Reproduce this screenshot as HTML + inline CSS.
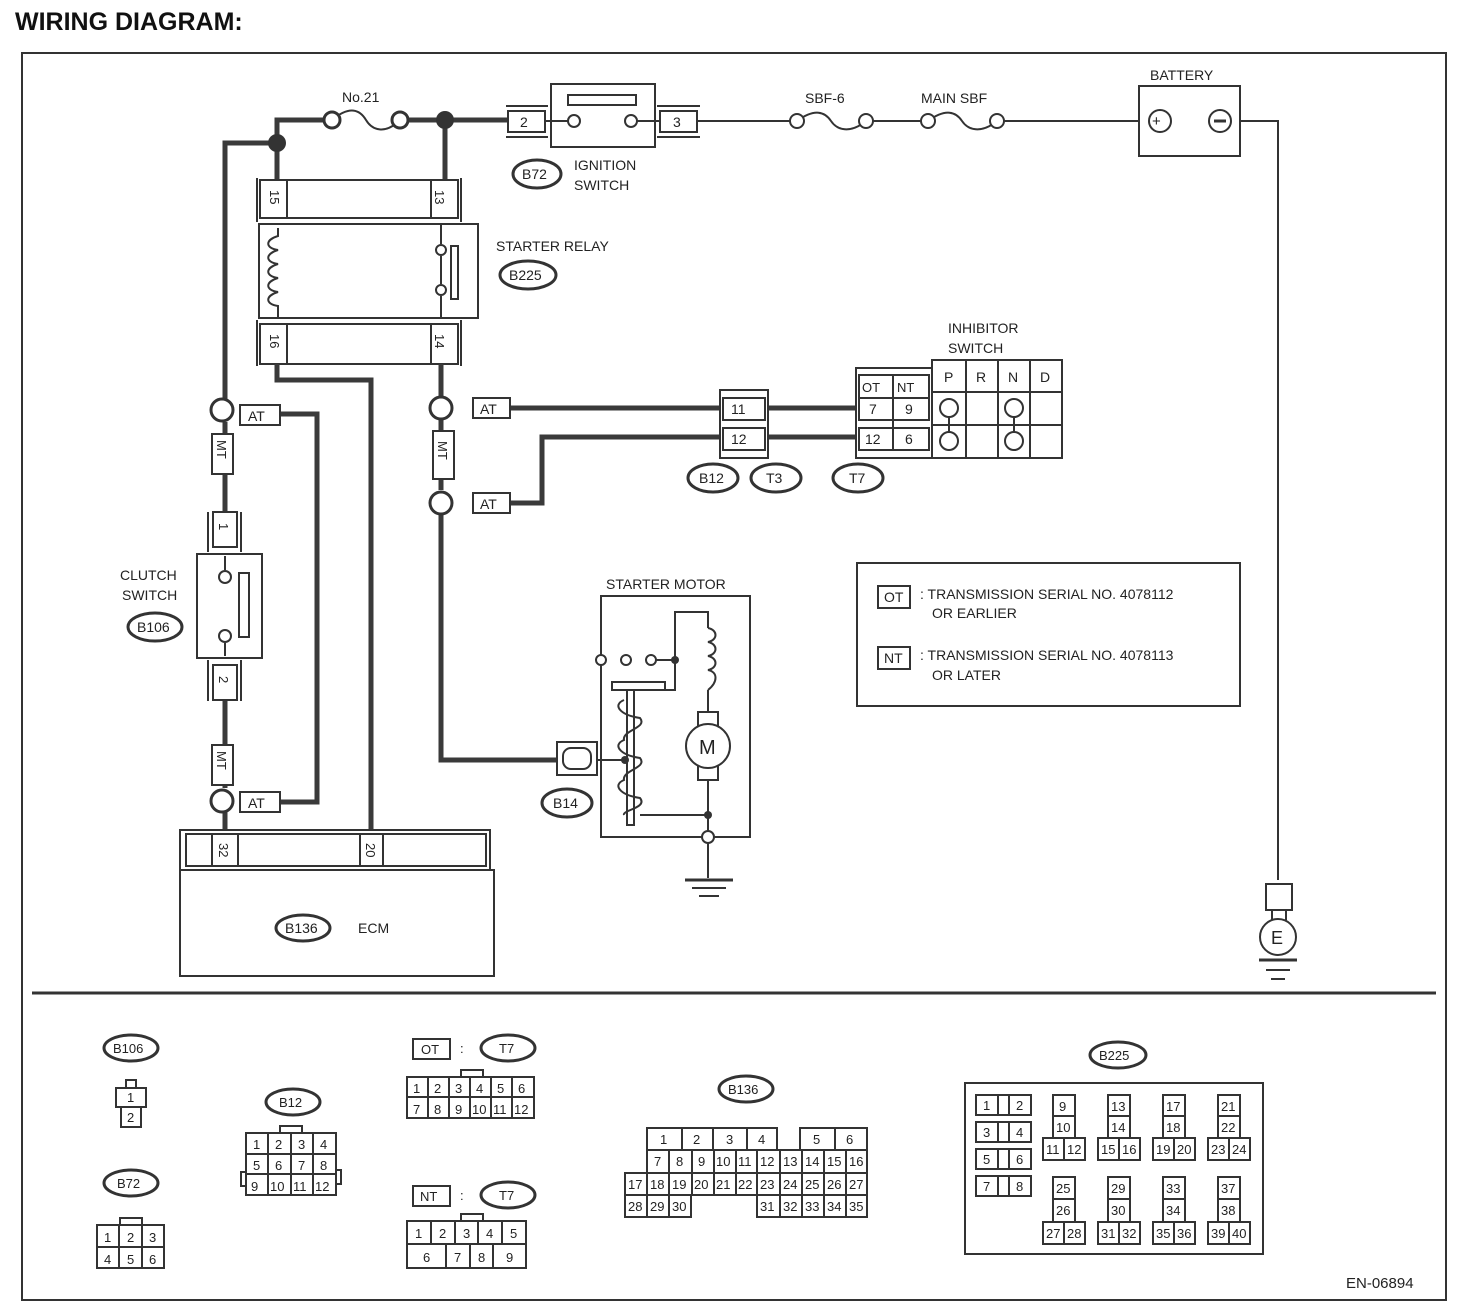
<!DOCTYPE html>
<html><head><meta charset="utf-8"><style>
html,body{margin:0;padding:0;background:#fff}
svg{display:block}
text{font-family:"Liberation Sans",sans-serif;fill:#222;font-size:14px}
.w{stroke:#3a3a3a;stroke-width:5;fill:none}
.t{stroke:#333;stroke-width:2;fill:none}
.b{stroke:#333;stroke-width:2;fill:#fff}
.e{stroke:#333;stroke-width:3;fill:#fff}
.p text{font-size:13px}
</style></head><body>
<svg width="1472" height="1308" viewBox="0 0 1472 1308" xmlns="http://www.w3.org/2000/svg">
<text x="15" y="30" style="font-size:25px;font-weight:bold;fill:#111">WIRING DIAGRAM:</text>
<rect x="22" y="53" width="1424" height="1247" class="t"/>
<line x1="32" y1="993" x2="1436" y2="993" stroke="#333" stroke-width="3"/>

<!-- top wires -->
<path class="w" d="M277 143V120H332M400 120H508M445 120V180M277 143V180M225 410V143H277"/>
<path d="M332 120 C350 105,360 110,366 120 S385 135,400 120" class="t" stroke-width="3"/>
<circle cx="332" cy="120" r="8" class="e"/><circle cx="400" cy="120" r="8" class="e"/>
<circle cx="277" cy="143" r="9" fill="#333"/><circle cx="445" cy="120" r="9" fill="#333"/>
<text x="342" y="102">No.21</text>
<!-- ignition switch -->
<rect x="508" y="111" width="37" height="21" class="b"/><text x="520" y="127">2</text>
<line x1="506" y1="106" x2="548" y2="106" class="t"/><line x1="506" y1="137" x2="548" y2="137" class="t"/>
<rect x="551" y="84" width="104" height="63" class="b"/>
<rect x="568" y="95" width="68" height="10" class="b"/>
<line x1="545" y1="121" x2="568" y2="121" class="t"/><line x1="637" y1="121" x2="660" y2="121" class="t"/>
<circle cx="574" cy="121" r="6" class="b"/><circle cx="631" cy="121" r="6" class="b"/>
<rect x="660" y="111" width="37" height="21" class="b"/><text x="673" y="127">3</text>
<line x1="657" y1="106" x2="700" y2="106" class="t"/><line x1="657" y1="137" x2="700" y2="137" class="t"/>
<ellipse cx="537" cy="174" rx="24" ry="14" class="e"/><text x="522" y="179">B72</text>
<text x="574" y="170">IGNITION</text><text x="574" y="190">SWITCH</text>
<!-- fuses to battery -->
<path class="t" stroke-width="3" d="M697 121H790M872 121H921M1003 121H1160M1220 121H1278V880"/>
<path class="t" d="M797 121 C815 108,825 112,831 121 S850 134,866 121M928 121 C946 108,956 112,962 121 S981 134,997 121"/>
<circle cx="797" cy="121" r="7" class="b"/><circle cx="866" cy="121" r="7" class="b"/>
<circle cx="928" cy="121" r="7" class="b"/><circle cx="997" cy="121" r="7" class="b"/>
<text x="805" y="103">SBF-6</text><text x="921" y="103">MAIN SBF</text>
<rect x="1139" y="86" width="101" height="70" class="b" stroke-width="3"/>
<text x="1150" y="80">BATTERY</text>
<circle cx="1160" cy="121" r="11" class="b" stroke-width="3"/><text x="1152" y="126" style="font-size:15px">+</text>
<circle cx="1220" cy="121" r="11" class="b" stroke-width="3"/><line x1="1214" y1="121" x2="1226" y2="121" stroke="#333" stroke-width="3"/>
<!-- ground E -->
<rect x="1266" y="884" width="26" height="26" class="b" stroke-width="3"/>
<line x1="1272" y1="910" x2="1272" y2="920" class="t"/><line x1="1286" y1="910" x2="1286" y2="920" class="t"/>
<circle cx="1278" cy="937" r="18" class="b" stroke-width="3"/><text x="1271" y="944" style="font-size:18px">E</text>
<line x1="1259" y1="960" x2="1297" y2="960" stroke="#333" stroke-width="3"/>
<line x1="1266" y1="970" x2="1290" y2="970" class="t"/><line x1="1271" y1="979" x2="1285" y2="979" class="t"/>

<!-- starter relay -->
<line x1="257" y1="178" x2="257" y2="222" class="t"/><line x1="461" y1="178" x2="461" y2="222" class="t"/>
<rect x="260" y="180" width="198" height="38" class="b"/>
<line x1="287" y1="180" x2="287" y2="218" class="t"/><line x1="431" y1="180" x2="431" y2="218" class="t"/>
<text transform="translate(270,190) rotate(90)" style="font-size:13px">15</text>
<text transform="translate(435,190) rotate(90)" style="font-size:13px">13</text>
<rect x="259" y="224" width="219" height="94" class="b"/>
<path class="t" d="M278 228V236 C265 240,265 248,278 250 C265 254,265 262,278 264 C265 268,265 276,278 278 C265 282,265 290,278 292 C265 296,265 304,278 306V318"/>
<path class="t" d="M441 224V244M441 256V284M441 296V318"/>
<circle cx="441" cy="250" r="5" class="b"/><circle cx="441" cy="290" r="5" class="b"/>
<rect x="451" y="246" width="7" height="53" class="b"/>
<line x1="257" y1="320" x2="257" y2="366" class="t"/><line x1="461" y1="320" x2="461" y2="366" class="t"/>
<rect x="260" y="324" width="198" height="40" class="b"/>
<line x1="287" y1="324" x2="287" y2="364" class="t"/><line x1="431" y1="324" x2="431" y2="364" class="t"/>
<text transform="translate(270,334) rotate(90)" style="font-size:13px">16</text>
<text transform="translate(435,334) rotate(90)" style="font-size:13px">14</text>
<text x="496" y="251">STARTER RELAY</text>
<ellipse cx="528" cy="275" rx="28" ry="14" class="e"/><text x="509" y="280">B225</text>

<!-- left/ECM wires -->
<path class="w" d="M277 364V380H371V830"/>
<path class="w" d="M225 422V434M225 474V511M225 700V745M225 784V788M225 812V830"/>
<path class="w" d="M280 414H317V802H280"/>
<circle cx="222" cy="410" r="11" class="e"/><circle cx="222" cy="801" r="11" class="e"/>
<rect x="240" y="405" width="40" height="20" class="b" stroke-width="3"/><text x="248" y="421">AT</text>
<rect x="240" y="792" width="40" height="20" class="b" stroke-width="3"/><text x="248" y="808">AT</text>
<rect x="212" y="434" width="21" height="40" class="b" stroke-width="3"/><text transform="translate(217,440) rotate(90)" style="font-size:13px">MT</text>
<rect x="212" y="745" width="21" height="40" class="b" stroke-width="3"/><text transform="translate(217,751) rotate(90)" style="font-size:13px">MT</text>
<!-- clutch switch -->
<line x1="208" y1="512" x2="208" y2="552" class="t"/><line x1="241" y1="512" x2="241" y2="552" class="t"/>
<rect x="213" y="512" width="24" height="35" class="b"/><text transform="translate(219,523) rotate(90)" style="font-size:13px">1</text>
<rect x="197" y="554" width="65" height="104" class="b" stroke-width="3"/>
<line x1="225" y1="556" x2="225" y2="570" class="t"/><line x1="225" y1="643" x2="225" y2="656" class="t"/>
<circle cx="225" cy="577" r="6" class="b"/><circle cx="225" cy="636" r="6" class="b"/>
<rect x="239" y="573" width="10" height="64" class="b"/>
<line x1="208" y1="660" x2="208" y2="701" class="t"/><line x1="241" y1="660" x2="241" y2="701" class="t"/>
<rect x="213" y="665" width="24" height="35" class="b"/><text transform="translate(219,676) rotate(90)" style="font-size:13px">2</text>
<text x="120" y="580">CLUTCH</text><text x="122" y="600">SWITCH</text>
<ellipse cx="155" cy="627" rx="27" ry="14" class="e"/><text x="137" y="632">B106</text>

<!-- ECM -->
<rect x="180" y="830" width="310" height="40" class="b" stroke-width="3"/>
<rect x="186" y="834" width="300" height="32" class="b"/>
<line x1="212" y1="834" x2="212" y2="866" class="t"/><line x1="238" y1="834" x2="238" y2="866" class="t"/>
<line x1="360" y1="834" x2="360" y2="866" class="t"/><line x1="383" y1="834" x2="383" y2="866" class="t"/>
<text transform="translate(219,843) rotate(90)" style="font-size:13px">32</text>
<text transform="translate(366,843) rotate(90)" style="font-size:13px">20</text>
<rect x="180" y="870" width="314" height="106" class="b" stroke-width="3"/>
<ellipse cx="303" cy="928" rx="27" ry="13" class="e"/><text x="285" y="933">B136</text>
<text x="358" y="933">ECM</text>

<!-- middle wires -->
<path class="w" d="M441 364V396M441 420V430M441 480V490M441 514V760H557"/>
<path class="w" d="M510 408H722M510 503H542V437H722M768 408H858M768 437H858"/>
<circle cx="441" cy="408" r="11" class="e"/><circle cx="441" cy="503" r="11" class="e"/>
<rect x="473" y="398" width="37" height="20" class="b" stroke-width="3"/><text x="480" y="414">AT</text>
<rect x="473" y="493" width="37" height="20" class="b" stroke-width="3"/><text x="480" y="509">AT</text>
<rect x="433" y="431" width="21" height="48" class="b" stroke-width="3"/><text transform="translate(438,441) rotate(90)" style="font-size:13px">MT</text>

<!-- B12 connector -->
<rect x="720" y="390" width="48" height="68" class="b" stroke-width="2"/>
<rect x="723" y="398" width="42" height="22" class="b"/><text x="731" y="414">11</text>
<rect x="723" y="428" width="42" height="22" class="b"/><text x="731" y="444">12</text>
<ellipse cx="713" cy="478" rx="25" ry="14" class="e"/><text x="699" y="483">B12</text>
<ellipse cx="776" cy="478" rx="25" ry="14" class="e"/><text x="766" y="483">T3</text>
<ellipse cx="858" cy="478" rx="25" ry="14" class="e"/><text x="849" y="483">T7</text>
<!-- inhibitor -->
<rect x="856" y="368" width="76" height="90" class="b" stroke-width="2"/>
<rect x="859" y="375" width="70" height="23" class="b"/><line x1="893" y1="375" x2="893" y2="450" class="t"/>
<rect x="859" y="398" width="70" height="22" class="b"/><rect x="859" y="428" width="70" height="22" class="b"/>
<line x1="893" y1="375" x2="893" y2="450" class="t"/>
<text x="862" y="392" style="font-size:13px">OT</text><text x="897" y="392" style="font-size:13px">NT</text>
<text x="869" y="414">7</text><text x="905" y="414">9</text>
<text x="865" y="444">12</text><text x="905" y="444">6</text>
<rect x="932" y="360" width="130" height="98" class="b" stroke-width="3"/>
<path class="t" d="M966 360V458M998 360V458M1030 360V458M932 392H1062M932 425H1062"/>
<text x="944" y="382">P</text><text x="976" y="382">R</text><text x="1008" y="382">N</text><text x="1040" y="382">D</text>
<line x1="949" y1="408" x2="949" y2="441" class="t"/><line x1="1014" y1="408" x2="1014" y2="441" class="t"/>
<circle cx="949" cy="408" r="9" class="b" stroke-width="3"/><circle cx="949" cy="441" r="9" class="b" stroke-width="3"/>
<circle cx="1014" cy="408" r="9" class="b" stroke-width="3"/><circle cx="1014" cy="441" r="9" class="b" stroke-width="3"/>
<text x="948" y="333">INHIBITOR</text><text x="948" y="353">SWITCH</text>

<!-- starter motor -->
<text x="606" y="589">STARTER MOTOR</text>
<rect x="601" y="596" width="149" height="241" class="b" stroke-width="3"/>
<rect x="557" y="742" width="40" height="33" class="b" stroke-width="3"/>
<rect x="563" y="748" width="28" height="21" rx="8" class="b" stroke-width="2"/>
<ellipse cx="567" cy="803" rx="25" ry="14" class="e"/><text x="553" y="808">B14</text>
<path class="t" d="M675 660V612H708V628M675 660V690H665M598 760H625M640 815H708M708 690V712M708 780V837M708 837V878"/>
<path class="t" d="M708 628 C718 630,718 640,708 642 C718 644,718 654,708 656 C718 658,718 668,708 670 C718 672,718 682,708 690"/>
<circle cx="601" cy="660" r="5" class="b"/><circle cx="626" cy="660" r="5" class="b"/><circle cx="651" cy="660" r="5" class="b"/>
<line x1="656" y1="660" x2="675" y2="660" class="t"/><circle cx="675" cy="660" r="4" fill="#333"/>
<rect x="612" y="682" width="53" height="8" class="b"/>
<rect x="627" y="690" width="7" height="135" class="b"/>
<path class="t" d="M624 700 C612 705,620 715,640 718 C648 728,622 730,624 740 C612 745,620 755,640 758 C648 768,622 770,624 780 C612 785,620 795,640 798 C648 808,622 810,624 815"/>
<circle cx="625" cy="760" r="4" fill="#333"/>
<rect x="698" y="712" width="20" height="14" class="b"/><rect x="698" y="766" width="20" height="14" class="b"/>
<circle cx="708" cy="746" r="22" class="b" stroke-width="3"/><text x="699" y="754" style="font-size:20px">M</text>
<circle cx="708" cy="815" r="4" fill="#333"/><circle cx="708" cy="837" r="6" class="b"/>
<line x1="685" y1="880" x2="733" y2="880" stroke="#333" stroke-width="3"/>
<line x1="692" y1="888" x2="726" y2="888" class="t"/><line x1="699" y1="896" x2="719" y2="896" class="t"/>

<!-- legend -->
<rect x="857" y="563" width="383" height="143" class="b" stroke-width="3"/>
<rect x="878" y="586" width="32" height="22" class="b" stroke-width="3"/><text x="884" y="602">OT</text>
<text x="920" y="599">: TRANSMISSION SERIAL NO. 4078112</text><text x="932" y="618">OR EARLIER</text>
<rect x="878" y="647" width="32" height="22" class="b" stroke-width="3"/><text x="884" y="663">NT</text>
<text x="920" y="660">: TRANSMISSION SERIAL NO. 4078113</text><text x="932" y="680">OR LATER</text>

<!-- bottom connectors -->
<g class="p">
<ellipse cx="131" cy="1048" rx="27" ry="13" class="e"/><text x="113" y="1053">B106</text>
<rect x="126" y="1080" width="10" height="8" class="b"/>
<rect x="116" y="1088" width="30" height="19" class="b"/><text x="127" y="1102">1</text>
<rect x="121" y="1107" width="20" height="20" class="b"/><text x="127" y="1122">2</text>

<ellipse cx="131" cy="1183" rx="27" ry="13" class="e"/><text x="117" y="1188">B72</text>
<rect x="120" y="1218" width="22" height="8" class="b"/>
<rect x="97" y="1225" width="67" height="43" class="b"/>
<path class="t" d="M119 1225V1268M142 1225V1268M97 1247H164"/>
<text x="104" y="1242">1</text><text x="127" y="1242">2</text><text x="149" y="1242">3</text>
<text x="104" y="1264">4</text><text x="127" y="1264">5</text><text x="149" y="1264">6</text>

<ellipse cx="293" cy="1102" rx="27" ry="13" class="e"/><text x="279" y="1107">B12</text>
<rect x="280" y="1126" width="22" height="8" class="b"/>
<rect x="241" y="1172" width="6" height="14" class="b"/><rect x="335" y="1170" width="6" height="14" class="b"/>
<rect x="246" y="1133" width="90" height="62" class="b"/>
<path class="t" d="M268 1133V1195M291 1133V1195M313 1133V1195M246 1154H336M246 1174H336"/>
<text x="253" y="1149">1</text><text x="275" y="1149">2</text><text x="298" y="1149">3</text><text x="320" y="1149">4</text>
<text x="253" y="1170">5</text><text x="275" y="1170">6</text><text x="298" y="1170">7</text><text x="320" y="1170">8</text>
<text x="251" y="1191">9</text><text x="270" y="1191">10</text><text x="293" y="1191">11</text><text x="315" y="1191">12</text>

<rect x="413" y="1039" width="37" height="20" class="b" stroke-width="3"/><text x="421" y="1054">OT</text>
<text x="460" y="1053">:</text>
<ellipse cx="508" cy="1048" rx="27" ry="13" class="e"/><text x="499" y="1053">T7</text>
<rect x="461" y="1070" width="22" height="7" class="b"/>
<rect x="407" y="1077" width="127" height="41" class="b"/>
<path class="t" d="M428 1077V1118M449 1077V1118M470 1077V1118M491 1077V1118M512 1077V1118M407 1097H534"/>
<text x="413" y="1093">1</text><text x="434" y="1093">2</text><text x="455" y="1093">3</text><text x="476" y="1093">4</text><text x="497" y="1093">5</text><text x="518" y="1093">6</text>
<text x="413" y="1114">7</text><text x="434" y="1114">8</text><text x="455" y="1114">9</text><text x="472" y="1114">10</text><text x="493" y="1114">11</text><text x="514" y="1114">12</text>

<rect x="413" y="1186" width="37" height="20" class="b" stroke-width="3"/><text x="420" y="1201">NT</text>
<text x="460" y="1200">:</text>
<ellipse cx="508" cy="1195" rx="27" ry="13" class="e"/><text x="499" y="1200">T7</text>
<rect x="461" y="1214" width="22" height="7" class="b"/>
<rect x="407" y="1221" width="119" height="47" class="b"/>
<path class="t" d="M431 1221V1244M455 1221V1244M478 1221V1244M502 1221V1244M407 1244H526M446 1244V1268M470 1244V1268M493 1244V1268"/>
<text x="415" y="1238">1</text><text x="439" y="1238">2</text><text x="463" y="1238">3</text><text x="486" y="1238">4</text><text x="510" y="1238">5</text>
<text x="423" y="1262">6</text><text x="454" y="1262">7</text><text x="478" y="1262">8</text><text x="506" y="1262">9</text>

<ellipse cx="746" cy="1089" rx="27" ry="13" class="e"/><text x="728" y="1094">B136</text>
<rect x="647" y="1128" width="130" height="22" class="b"/>
<rect x="800" y="1128" width="67" height="22" class="b"/>
<path class="t" d="M682 1128V1150M713 1128V1150M747 1128V1150M835 1128V1150"/>
<text x="660" y="1144">1</text><text x="693" y="1144">2</text><text x="726" y="1144">3</text><text x="758" y="1144">4</text><text x="813" y="1144">5</text><text x="846" y="1144">6</text>
<rect x="647" y="1150" width="220" height="23" class="b"/>
<rect x="625" y="1173" width="242" height="22" class="b"/>
<rect x="625" y="1195" width="66" height="22" class="b"/>
<rect x="757" y="1195" width="110" height="22" class="b"/>
<path class="t" d="M669 1150V1217M692 1150V1195M714 1150V1195M736 1150V1195M757 1150V1195M780 1150V1217M802 1150V1217M824 1150V1217M846 1150V1217M647 1173V1217"/>
<g style="font-size:12px">
<text x="654" y="1166">7</text><text x="676" y="1166">8</text><text x="698" y="1166">9</text><text x="716" y="1166">10</text><text x="738" y="1166">11</text><text x="760" y="1166">12</text><text x="783" y="1166">13</text><text x="805" y="1166">14</text><text x="827" y="1166">15</text><text x="849" y="1166">16</text>
<text x="628" y="1189">17</text><text x="650" y="1189">18</text><text x="672" y="1189">19</text><text x="694" y="1189">20</text><text x="716" y="1189">21</text><text x="738" y="1189">22</text><text x="760" y="1189">23</text><text x="783" y="1189">24</text><text x="805" y="1189">25</text><text x="827" y="1189">26</text><text x="849" y="1189">27</text>
<text x="628" y="1211">28</text><text x="650" y="1211">29</text><text x="672" y="1211">30</text><text x="760" y="1211">31</text><text x="783" y="1211">32</text><text x="805" y="1211">33</text><text x="827" y="1211">34</text><text x="849" y="1211">35</text>
</g>

<ellipse cx="1118" cy="1055" rx="28" ry="13" class="e"/><text x="1099" y="1060">B225</text>
<rect x="965" y="1083" width="298" height="171" class="b"/>
<g style="font-size:12px">
<rect x="976" y="1095" width="55" height="20" class="b"/><path class="t" d="M998 1095V1115M1009 1095V1115"/><text x="983" y="1110">1</text><text x="1016" y="1110">2</text>
<rect x="976" y="1122" width="55" height="20" class="b"/><path class="t" d="M998 1122V1142M1009 1122V1142"/><text x="983" y="1137">3</text><text x="1016" y="1137">4</text>
<rect x="976" y="1149" width="55" height="20" class="b"/><path class="t" d="M998 1149V1169M1009 1149V1169"/><text x="983" y="1164">5</text><text x="1016" y="1164">6</text>
<rect x="976" y="1176" width="55" height="20" class="b"/><path class="t" d="M998 1176V1196M1009 1176V1196"/><text x="983" y="1191">7</text><text x="1016" y="1191">8</text>
<!-- groups -->
<g transform="translate(1043,1095)"><rect x="10" y="0" width="22" height="43" class="b"/><line x1="10" y1="21" x2="32" y2="21" class="t"/><rect x="0" y="43" width="42" height="22" class="b"/><line x1="21" y1="43" x2="21" y2="65" class="t"/><text x="16" y="16">9</text><text x="13" y="37">10</text><text x="3" y="59">11</text><text x="24" y="59">12</text></g>
<g transform="translate(1098,1095)"><rect x="10" y="0" width="22" height="43" class="b"/><line x1="10" y1="21" x2="32" y2="21" class="t"/><rect x="0" y="43" width="42" height="22" class="b"/><line x1="21" y1="43" x2="21" y2="65" class="t"/><text x="13" y="16">13</text><text x="13" y="37">14</text><text x="3" y="59">15</text><text x="24" y="59">16</text></g>
<g transform="translate(1153,1095)"><rect x="10" y="0" width="22" height="43" class="b"/><line x1="10" y1="21" x2="32" y2="21" class="t"/><rect x="0" y="43" width="42" height="22" class="b"/><line x1="21" y1="43" x2="21" y2="65" class="t"/><text x="13" y="16">17</text><text x="13" y="37">18</text><text x="3" y="59">19</text><text x="24" y="59">20</text></g>
<g transform="translate(1208,1095)"><rect x="10" y="0" width="22" height="43" class="b"/><line x1="10" y1="21" x2="32" y2="21" class="t"/><rect x="0" y="43" width="42" height="22" class="b"/><line x1="21" y1="43" x2="21" y2="65" class="t"/><text x="13" y="16">21</text><text x="13" y="37">22</text><text x="3" y="59">23</text><text x="24" y="59">24</text></g>
<g transform="translate(1043,1177)"><rect x="10" y="0" width="22" height="45" class="b"/><line x1="10" y1="22" x2="32" y2="22" class="t"/><rect x="0" y="45" width="42" height="22" class="b"/><line x1="21" y1="45" x2="21" y2="67" class="t"/><text x="13" y="16">25</text><text x="13" y="38">26</text><text x="3" y="61">27</text><text x="24" y="61">28</text></g>
<g transform="translate(1098,1177)"><rect x="10" y="0" width="22" height="45" class="b"/><line x1="10" y1="22" x2="32" y2="22" class="t"/><rect x="0" y="45" width="42" height="22" class="b"/><line x1="21" y1="45" x2="21" y2="67" class="t"/><text x="13" y="16">29</text><text x="13" y="38">30</text><text x="3" y="61">31</text><text x="24" y="61">32</text></g>
<g transform="translate(1153,1177)"><rect x="10" y="0" width="22" height="45" class="b"/><line x1="10" y1="22" x2="32" y2="22" class="t"/><rect x="0" y="45" width="42" height="22" class="b"/><line x1="21" y1="45" x2="21" y2="67" class="t"/><text x="13" y="16">33</text><text x="13" y="38">34</text><text x="3" y="61">35</text><text x="24" y="61">36</text></g>
<g transform="translate(1208,1177)"><rect x="10" y="0" width="22" height="45" class="b"/><line x1="10" y1="22" x2="32" y2="22" class="t"/><rect x="0" y="45" width="42" height="22" class="b"/><line x1="21" y1="45" x2="21" y2="67" class="t"/><text x="13" y="16">37</text><text x="13" y="38">38</text><text x="3" y="61">39</text><text x="24" y="61">40</text></g>
</g>
</g>
<text x="1346" y="1288" style="font-size:15px">EN-06894</text>
</svg>
</body></html>
